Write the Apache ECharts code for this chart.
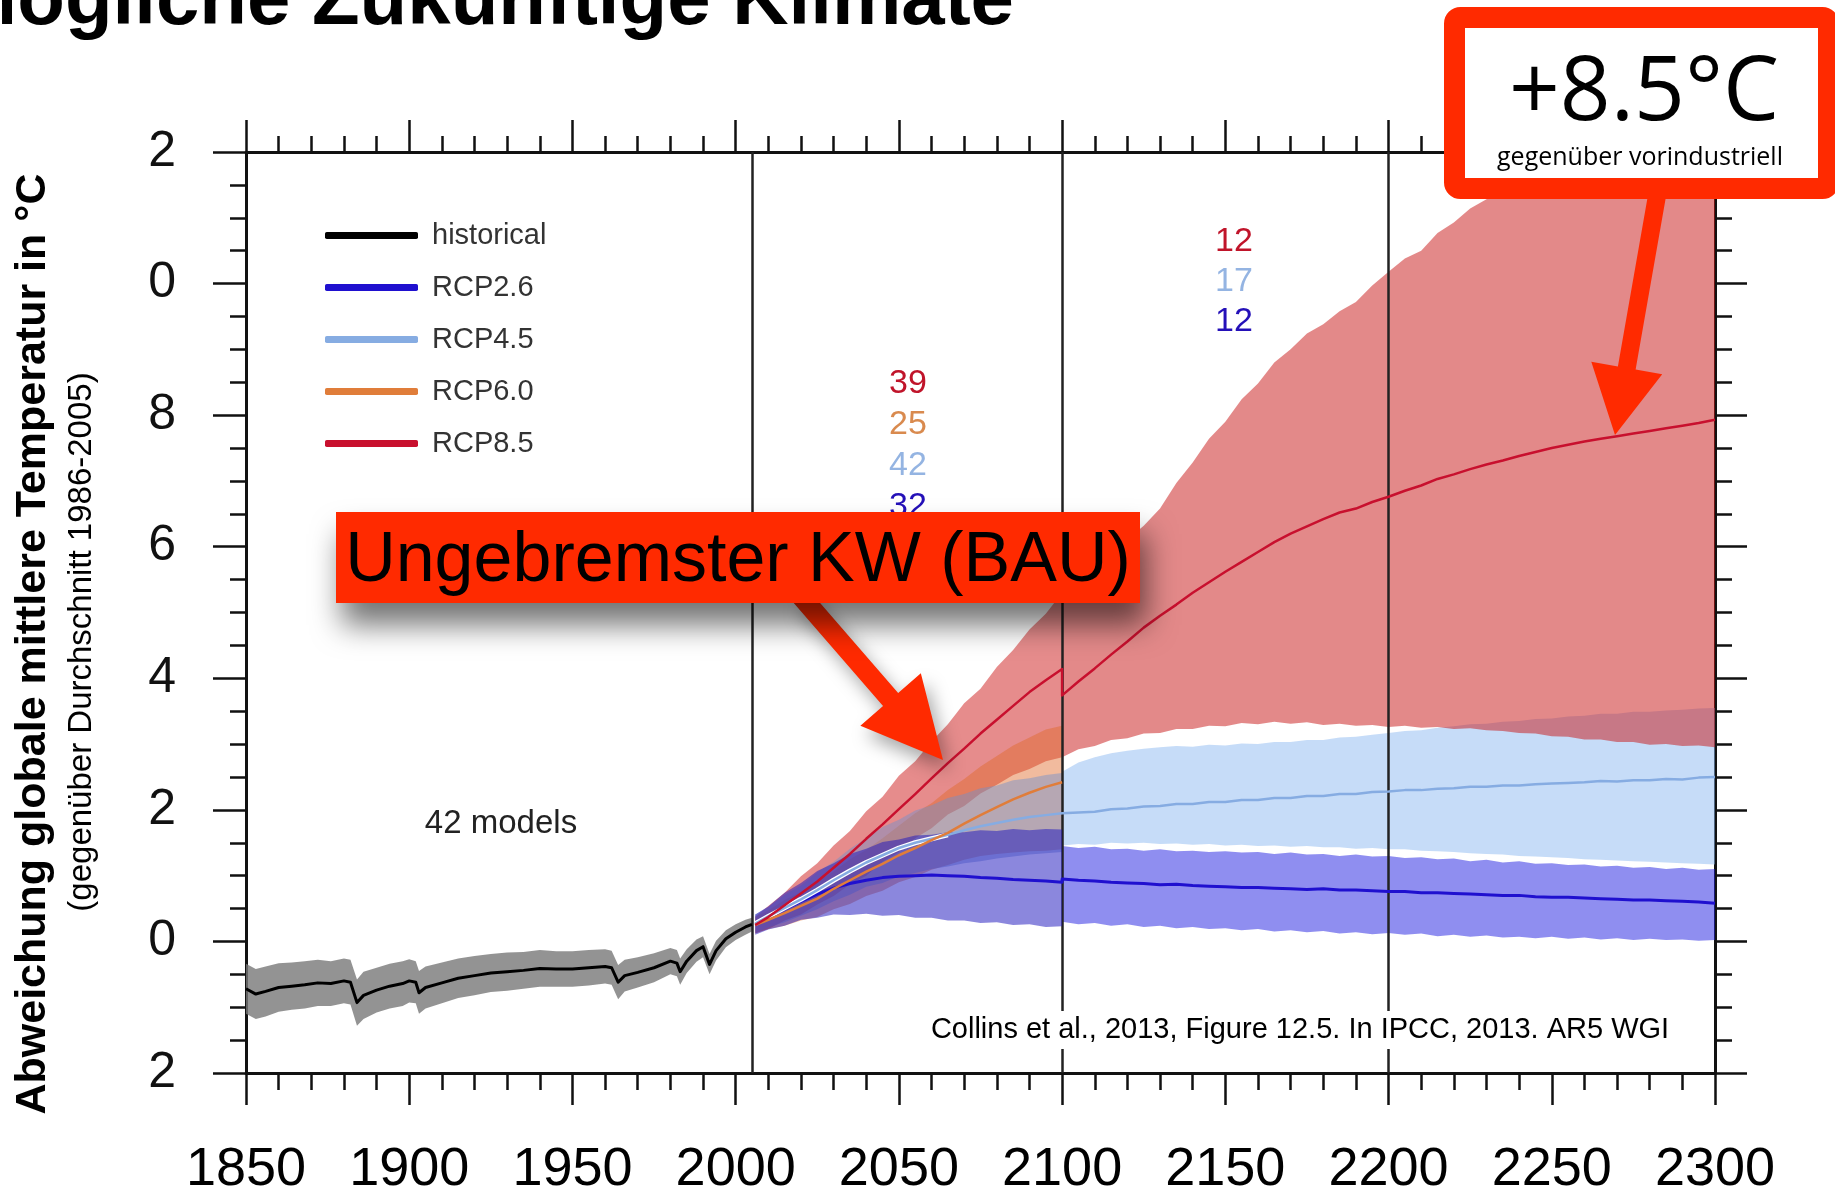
<!DOCTYPE html>
<html>
<head>
<meta charset="utf-8">
<script src="https://cdn.jsdelivr.net/npm/echarts@6/dist/echarts.min.js"></script>
<style>
  html, body { margin: 0; padding: 0; background: #ffffff; }
  #chart { width: 1835px; height: 1189px; }
</style>
</head>
<body>
<div id="chart"></div>
<script>
// ---- Tick labels (left axis shows only the last digit of each value) ----
const yTickValues = [-2, 0, 2, 4, 6, 8, 10, 12];
const yTickLabels = ['2', '0', '2', '4', '6', '8', '0', '2'];

// ---- Historical simulations 1850-2005 ----
const histYears = [1850,1853,1856,1860,1864,1868,1872,1876,1880,1882,1884,1886,1890,1894,1898,1900,1902,1903,1905,1910,1915,1920,1925,1930,1935,1940,1945,1950,1955,1960,1962,1964,1966,1970,1975,1980,1982,1983,1985,1988,1990,1992,1994,1997,2000,2003,2005];
const histMean  = [-0.72,-0.8,-0.76,-0.7,-0.68,-0.66,-0.63,-0.64,-0.6,-0.62,-0.93,-0.82,-0.74,-0.68,-0.64,-0.6,-0.62,-0.78,-0.7,-0.63,-0.56,-0.52,-0.48,-0.46,-0.44,-0.41,-0.42,-0.42,-0.4,-0.38,-0.4,-0.62,-0.52,-0.47,-0.4,-0.3,-0.33,-0.46,-0.3,-0.14,-0.08,-0.35,-0.14,0.04,0.14,0.22,0.26];
const histUpper = [-0.34,-0.42,-0.38,-0.33,-0.32,-0.3,-0.28,-0.3,-0.26,-0.28,-0.58,-0.46,-0.4,-0.34,-0.3,-0.27,-0.3,-0.45,-0.38,-0.32,-0.26,-0.22,-0.19,-0.17,-0.16,-0.13,-0.15,-0.15,-0.13,-0.12,-0.14,-0.36,-0.28,-0.24,-0.18,-0.1,-0.13,-0.26,-0.12,0.03,0.08,-0.19,0.01,0.17,0.26,0.33,0.36];
const histLower = [-1.1,-1.18,-1.14,-1.07,-1.04,-1.02,-0.98,-0.98,-0.94,-0.96,-1.28,-1.18,-1.08,-1.02,-0.98,-0.93,-0.94,-1.1,-1.02,-0.94,-0.86,-0.82,-0.77,-0.75,-0.72,-0.69,-0.69,-0.69,-0.67,-0.64,-0.66,-0.88,-0.76,-0.7,-0.62,-0.5,-0.53,-0.66,-0.48,-0.31,-0.24,-0.5,-0.29,-0.09,0.02,0.1,0.15];

// ---- Projections 2006-2100 ----
const years21 = [2006,2010,2015,2020,2025,2030,2035,2040,2045,2050,2055,2060,2065,2070,2075,2080,2085,2090,2095,2100];
const rcp85Mean21  = [0.25,0.37,0.55,0.73,0.91,1.12,1.33,1.56,1.78,2.01,2.24,2.48,2.71,2.93,3.16,3.37,3.58,3.79,3.97,4.14];
const rcp85Upper21 = [0.38,0.54,0.74,0.99,1.19,1.46,1.68,1.98,2.2,2.52,2.74,3.04,3.3,3.62,3.84,4.17,4.43,4.74,4.98,5.3];
const rcp85Lower21 = [0.12,0.19,0.32,0.41,0.56,0.69,0.87,1.0,1.21,1.36,1.57,1.72,1.93,2.06,2.25,2.38,2.53,2.62,2.74,2.8];
const rcp60Mean21  = [0.25,0.33,0.43,0.54,0.65,0.8,0.93,1.06,1.18,1.31,1.42,1.54,1.65,1.79,1.92,2.04,2.16,2.26,2.35,2.42];
const rcp60Upper21 = [0.37,0.47,0.63,0.75,0.92,1.06,1.25,1.39,1.57,1.76,1.95,2.1,2.3,2.47,2.66,2.82,2.98,3.1,3.22,3.28];
const rcp60Lower21 = [0.13,0.19,0.24,0.32,0.37,0.49,0.57,0.69,0.77,0.9,0.98,1.09,1.16,1.24,1.3,1.33,1.35,1.37,1.38,1.4];
const rcp45Mean21  = [0.27,0.38,0.51,0.64,0.78,0.93,1.07,1.2,1.31,1.42,1.5,1.56,1.62,1.69,1.75,1.8,1.85,1.89,1.92,1.95];
const rcp45Upper21 = [0.41,0.52,0.71,0.85,1.05,1.21,1.41,1.57,1.74,1.85,1.99,2.07,2.18,2.24,2.33,2.37,2.45,2.48,2.53,2.56];
const rcp45Lower21 = [0.13,0.21,0.29,0.39,0.49,0.61,0.71,0.83,0.89,0.99,1.04,1.1,1.14,1.19,1.22,1.26,1.29,1.32,1.34,1.36];
const rcp26Mean21  = [0.25,0.35,0.49,0.61,0.72,0.81,0.88,0.93,0.97,0.99,1.0,1.01,1.0,0.99,0.97,0.96,0.94,0.93,0.92,0.9];
const rcp26Upper21 = [0.41,0.53,0.74,0.89,1.07,1.19,1.33,1.41,1.51,1.55,1.61,1.62,1.66,1.66,1.69,1.68,1.71,1.69,1.71,1.7];
const rcp26Lower21 = [0.1,0.18,0.24,0.33,0.36,0.41,0.4,0.42,0.39,0.4,0.36,0.36,0.32,0.32,0.28,0.29,0.25,0.26,0.22,0.23];

// ---- Extended projections 2100-2300 ----
const years23 = [2100,2105,2110,2115,2120,2125,2130,2135,2140,2145,2150,2155,2160,2165,2170,2175,2180,2185,2190,2195,2200,2205,2210,2215,2220,2225,2230,2235,2240,2245,2250,2255,2260,2265,2270,2275,2280,2285,2290,2295,2300];
const rcp85Mean23  = [3.74,3.95,4.15,4.36,4.56,4.77,4.95,5.12,5.3,5.46,5.62,5.77,5.92,6.07,6.2,6.31,6.42,6.52,6.58,6.68,6.76,6.85,6.93,7.03,7.1,7.18,7.25,7.31,7.38,7.44,7.5,7.55,7.6,7.64,7.68,7.72,7.76,7.8,7.84,7.88,7.93];
const rcp85Upper23 = [5.55,5.72,5.84,6.02,6.11,6.32,6.58,6.97,7.28,7.64,7.9,8.24,8.48,8.8,9.0,9.24,9.38,9.58,9.72,9.97,10.18,10.38,10.5,10.77,10.93,11.14,11.28,11.47,11.56,11.72,11.78,11.92,11.98,12.12,12.18,12.3,12.34,12.44,12.46,12.54,12.56];
const rcp85Lower23 = [2.8,2.92,2.97,3.06,3.09,3.16,3.17,3.23,3.23,3.28,3.27,3.32,3.3,3.34,3.31,3.33,3.29,3.31,3.28,3.29,3.26,3.28,3.25,3.26,3.23,3.24,3.21,3.2,3.17,3.16,3.12,3.11,3.07,3.07,3.03,3.03,2.99,3.0,2.97,2.98,2.95];
const rcp45Mean23  = [1.93,1.96,1.97,2.01,2.02,2.05,2.06,2.09,2.09,2.12,2.12,2.15,2.15,2.18,2.18,2.21,2.21,2.24,2.24,2.27,2.28,2.3,2.3,2.32,2.33,2.35,2.35,2.37,2.37,2.39,2.4,2.41,2.42,2.44,2.43,2.45,2.45,2.47,2.46,2.49,2.5];
const rcp45Upper23 = [2.58,2.72,2.8,2.86,2.9,2.93,2.95,2.97,2.96,2.99,2.98,3.01,3.0,3.03,3.03,3.06,3.06,3.1,3.11,3.14,3.17,3.2,3.21,3.25,3.27,3.3,3.31,3.34,3.35,3.38,3.39,3.42,3.43,3.46,3.46,3.49,3.49,3.51,3.52,3.54,3.55];
const rcp45Lower23 = [1.46,1.48,1.47,1.5,1.49,1.5,1.48,1.49,1.47,1.48,1.46,1.47,1.45,1.46,1.44,1.45,1.43,1.43,1.41,1.42,1.4,1.4,1.38,1.37,1.36,1.34,1.33,1.32,1.3,1.29,1.28,1.27,1.25,1.24,1.23,1.22,1.21,1.2,1.19,1.18,1.17];
const rcp26Mean23  = [0.95,0.93,0.92,0.9,0.89,0.88,0.86,0.87,0.85,0.84,0.83,0.82,0.82,0.81,0.8,0.79,0.8,0.78,0.78,0.77,0.76,0.76,0.74,0.74,0.73,0.72,0.71,0.7,0.7,0.68,0.67,0.67,0.66,0.65,0.64,0.63,0.63,0.62,0.61,0.6,0.58];
const rcp26Upper23 = [1.45,1.42,1.44,1.4,1.41,1.38,1.4,1.37,1.38,1.36,1.37,1.35,1.36,1.33,1.35,1.32,1.33,1.3,1.32,1.29,1.3,1.27,1.28,1.25,1.26,1.22,1.24,1.2,1.22,1.18,1.19,1.16,1.17,1.14,1.15,1.12,1.13,1.1,1.12,1.09,1.1];
const rcp26Lower23 = [0.3,0.26,0.28,0.24,0.26,0.22,0.24,0.2,0.22,0.19,0.2,0.17,0.19,0.15,0.17,0.14,0.16,0.12,0.14,0.11,0.13,0.1,0.12,0.08,0.1,0.07,0.09,0.06,0.07,0.05,0.07,0.04,0.06,0.03,0.05,0.02,0.04,0.02,0.03,0.01,0.02];

// ---- Model counts per period ----
const counts2100 = ['39', '25', '42', '32'];
const counts2300 = ['12', '17', '12'];

// ---- Styling ----
const FONT = "'Liberation Sans', Arial, Helvetica, sans-serif";
const C_HIST = '#000000', C_26 = '#1f10cf', C_45 = '#86ace2', C_60 = '#e07d3a', C_85 = '#c8102e';
const RED = '#ff2a00';

function zip(xs, ys) { return xs.map((x, i) => [x, ys[i]]); }

// Shaded range between two curves, drawn as one polygon through the axes' scales
function band(name, years, lower, upper, fill, z) {
  return {
    type: 'custom', name, silent: true, clip: true, z,
    coordinateSystem: 'cartesian2d',
    data: [[years[0], lower[0]]],
    renderItem(params, api) {
      const pts = [];
      for (let i = 0; i < years.length; i++) pts.push(api.coord([years[i], upper[i]]));
      for (let i = years.length - 1; i >= 0; i--) pts.push(api.coord([years[i], lower[i]]));
      return { type: 'polygon', shape: { points: pts }, style: { fill } };
    }
  };
}

function meanLine(name, data, color, width, z) {
  return {
    type: 'line', name, data, symbol: 'none', showSymbol: false, z,
    lineStyle: { color, width, join: 'round' }, itemStyle: { color },
    emphasis: { disabled: true }, animation: false
  };
}

// Arrow outline (shaft + triangular head) from start point to tip
function arrowPoints(sx, sy, tx, ty, headLen, headHalf, shaftHalf) {
  const dx = tx - sx, dy = ty - sy, L = Math.hypot(dx, dy);
  const ux = dx / L, uy = dy / L, nx = -uy, ny = ux;
  const mx = tx - ux * headLen, my = ty - uy * headLen;
  return [
    [sx + nx * shaftHalf, sy + ny * shaftHalf],
    [mx + nx * shaftHalf, my + ny * shaftHalf],
    [mx + nx * headHalf, my + ny * headHalf],
    [tx, ty],
    [mx - nx * headHalf, my - ny * headHalf],
    [mx - nx * shaftHalf, my - ny * shaftHalf],
    [sx - nx * shaftHalf, sy - ny * shaftHalf]
  ];
}

const axisLineStyle = { color: '#111', width: 3 };
const tickStyle = { color: '#111', width: 2.5 };

const chart = echarts.init(document.getElementById('chart'), null, { renderer: 'canvas' });

// RCP4.5 mean gets a thin white halo where it runs through the overlapping ranges
const rcp45Halo = meanLine('rcp45Halo', zip(years21, rcp45Mean21).slice(0, 13), '#ffffff', 5, 11);

const rcp85Line = meanLine('RCP8.5', zip(years21, rcp85Mean21).concat(zip(years23, rcp85Mean23)), C_85, 2.5, 14);
rcp85Line.markLine = {
  silent: true, symbol: ['none', 'none'], animation: false,
  label: { show: false },
  lineStyle: { color: '#222', width: 2.5, type: 'solid' },
  data: [{ xAxis: 2005 }, { xAxis: 2100 }, { xAxis: 2200 }]
};

const option = {
  animation: false,
  backgroundColor: '#ffffff',
  grid: { left: 246, right: 120, top: 152, bottom: 116, containLabel: false, outerBoundsMode: 'none' },
  xAxis: [
    {
      type: 'value', min: 1850, max: 2300, interval: 50, position: 'bottom',
      axisLine: { show: true, onZero: false, lineStyle: axisLineStyle },
      axisTick: { show: true, length: 32, lineStyle: tickStyle },
      minorTick: { show: true, splitNumber: 5, length: 17, lineStyle: tickStyle },
      splitLine: { show: false },
      axisLabel: { show: true, margin: 70, fontSize: 54, color: '#000', fontFamily: FONT, formatter: v => String(v) }
    },
    {
      type: 'value', min: 1850, max: 2300, interval: 50, position: 'top',
      axisLine: { show: true, onZero: false, lineStyle: axisLineStyle },
      axisTick: { show: true, length: 32, lineStyle: tickStyle },
      minorTick: { show: true, splitNumber: 5, length: 16, lineStyle: tickStyle },
      splitLine: { show: false },
      axisLabel: { show: false }
    }
  ],
  yAxis: [
    {
      type: 'value', min: -2, max: 12, interval: 2, position: 'left',
      axisLine: { show: true, onZero: false, lineStyle: axisLineStyle },
      axisTick: { show: true, length: 33, lineStyle: tickStyle },
      minorTick: { show: true, splitNumber: 4, length: 16, lineStyle: tickStyle },
      splitLine: { show: false },
      axisLabel: {
        show: true, margin: 70, fontSize: 50, color: '#111', fontFamily: FONT,
        formatter: v => { const i = yTickValues.indexOf(v); return i >= 0 ? yTickLabels[i] : ''; }
      }
    },
    {
      type: 'value', min: -2, max: 12, interval: 2, position: 'right',
      axisLine: { show: true, onZero: false, lineStyle: axisLineStyle },
      axisTick: { show: true, length: 32, lineStyle: tickStyle },
      minorTick: { show: true, splitNumber: 4, length: 17, lineStyle: tickStyle },
      splitLine: { show: false },
      axisLabel: { show: false }
    }
  ],
  legend: {
    show: true, orient: 'vertical', left: 320, top: 216, itemGap: 23,
    itemWidth: 93, itemHeight: 7, icon: 'roundRect', selectedMode: false,
    textStyle: { fontSize: 29, color: '#333', fontFamily: FONT, padding: [0, 0, 0, 9] },
    data: ['historical', 'RCP2.6', 'RCP4.5', 'RCP6.0', 'RCP8.5']
  },
  series: [
    // shaded ranges
    band('histRange', histYears, histLower, histUpper, 'rgba(120,120,120,0.8)', 1),
    band('rcp85Range21', years21, rcp85Lower21, rcp85Upper21, 'rgba(205,25,25,0.5)', 2),
    band('rcp60Range21', years21, rcp60Lower21, rcp60Upper21, 'rgba(225,105,40,0.45)', 3),
    band('rcp45Range21', years21, rcp45Lower21, rcp45Upper21, 'rgba(110,145,205,0.45)', 4),
    band('rcp26Range21', years21, rcp26Lower21, rcp26Upper21, 'rgba(32,25,190,0.52)', 5),
    band('rcp45Range23', years23, rcp45Lower23, rcp45Upper23, 'rgba(141,185,241,0.5)', 2),
    band('rcp26Range23', years23, rcp26Lower23, rcp26Upper23, 'rgba(31,29,225,0.5)', 2),
    band('rcp85Range23', years23, rcp85Lower23, rcp85Upper23, 'rgba(200,20,20,0.5)', 3),
    // multi-model means
    meanLine('historical', zip(histYears, histMean), C_HIST, 3, 10),
    meanLine('RCP2.6', zip(years21, rcp26Mean21).concat(zip(years23, rcp26Mean23)), C_26, 3, 11),
    rcp45Halo,
    meanLine('RCP4.5', zip(years21, rcp45Mean21).concat(zip(years23, rcp45Mean23)), C_45, 2.5, 12),
    meanLine('RCP6.0', zip(years21, rcp60Mean21), C_60, 2.5, 13),
    rcp85Line
  ],
  graphic: { elements: [
    // slide title, cut at the top edge
    { type: 'text', z: 100, x: 1014, y: 2, style: { text: 'Mögliche Zukünftige Klimate', font: 'bold 78px ' + FONT, fill: '#000', align: 'right', verticalAlign: 'middle' } },
    // axis titles
    { type: 'text', z: 100, x: 33, y: 644, rotation: Math.PI / 2, style: { text: 'Abweichung globale mittlere Temperatur in °C', font: 'bold 43px ' + FONT, fill: '#000', align: 'center', verticalAlign: 'middle' } },
    { type: 'text', z: 100, x: 82, y: 642, rotation: Math.PI / 2, style: { text: '(gegenüber Durchschnitt 1986-2005)', font: '33px ' + FONT, fill: '#000', align: 'center', verticalAlign: 'middle' } },
    // model counts
    { type: 'text', z: 50, x: 908, y: 384, style: { text: counts2100[0], font: '34px ' + FONT, fill: '#c0142a', align: 'center', verticalAlign: 'middle' } },
    { type: 'text', z: 50, x: 908, y: 425, style: { text: counts2100[1], font: '34px ' + FONT, fill: '#d98a4e', align: 'center', verticalAlign: 'middle' } },
    { type: 'text', z: 50, x: 908, y: 466, style: { text: counts2100[2], font: '34px ' + FONT, fill: '#94b4e2', align: 'center', verticalAlign: 'middle' } },
    { type: 'text', z: 50, x: 908, y: 507, style: { text: counts2100[3], font: '34px ' + FONT, fill: '#2410b8', align: 'center', verticalAlign: 'middle' } },
    { type: 'text', z: 50, x: 1234, y: 242, style: { text: counts2300[0], font: '34px ' + FONT, fill: '#c0142a', align: 'center', verticalAlign: 'middle' } },
    { type: 'text', z: 50, x: 1234, y: 282, style: { text: counts2300[1], font: '34px ' + FONT, fill: '#94b4e2', align: 'center', verticalAlign: 'middle' } },
    { type: 'text', z: 50, x: 1234, y: 322, style: { text: counts2300[2], font: '34px ' + FONT, fill: '#2410b8', align: 'center', verticalAlign: 'middle' } },
    { type: 'text', z: 50, x: 501, y: 824, style: { text: '42 models', font: '33px ' + FONT, fill: '#222', align: 'center', verticalAlign: 'middle' } },
    // source note on a white patch
    { type: 'rect', z: 50, shape: { x: 918, y: 1011, width: 766, height: 38 }, style: { fill: '#ffffff' } },
    { type: 'text', z: 51, x: 1300, y: 1030, style: { text: 'Collins et al., 2013, Figure 12.5. In IPCC, 2013. AR5 WGI', font: '29px ' + FONT, fill: '#000', align: 'center', verticalAlign: 'middle' } },
    // business-as-usual callout
    { type: 'polygon', z: 100, shape: { points: arrowPoints(800, 595, 943, 760, 80, 40, 10) },
      style: { fill: RED, shadowBlur: 18, shadowColor: 'rgba(0,0,0,0.35)', shadowOffsetX: 6, shadowOffsetY: 10 } },
    { type: 'rect', z: 101, shape: { x: 336, y: 512, width: 804, height: 91 },
      style: { fill: RED, shadowBlur: 30, shadowColor: 'rgba(0,0,0,0.55)', shadowOffsetX: 6, shadowOffsetY: 22 } },
    { type: 'text', z: 102, x: 738, y: 562, style: { text: 'Ungebremster KW (BAU)', font: '70px ' + FONT, fill: '#000', align: 'center', verticalAlign: 'middle' } },
    // +8.5 °C callout
    { type: 'polygon', z: 100, shape: { points: arrowPoints(1658, 190, 1615, 435, 68, 36, 9) }, style: { fill: RED } },
    { type: 'rect', z: 101, shape: { x: 1454.5, y: 17.5, width: 374, height: 171, r: 6 }, style: { fill: '#ffffff', stroke: RED, lineWidth: 21 } },
    { type: 'text', z: 102, x: 1644, y: 95, style: { text: '+8.5°C', font: "89px 'Open Sans', " + FONT, fill: '#000', align: 'center', verticalAlign: 'middle' } },
    { type: 'text', z: 102, x: 1640, y: 158, style: { text: 'gegenüber vorindustriell', font: "25px 'Open Sans', " + FONT, fill: '#000', align: 'center', verticalAlign: 'middle' } }
  ] }
};

chart.setOption(option);
</script>
</body>
</html>
